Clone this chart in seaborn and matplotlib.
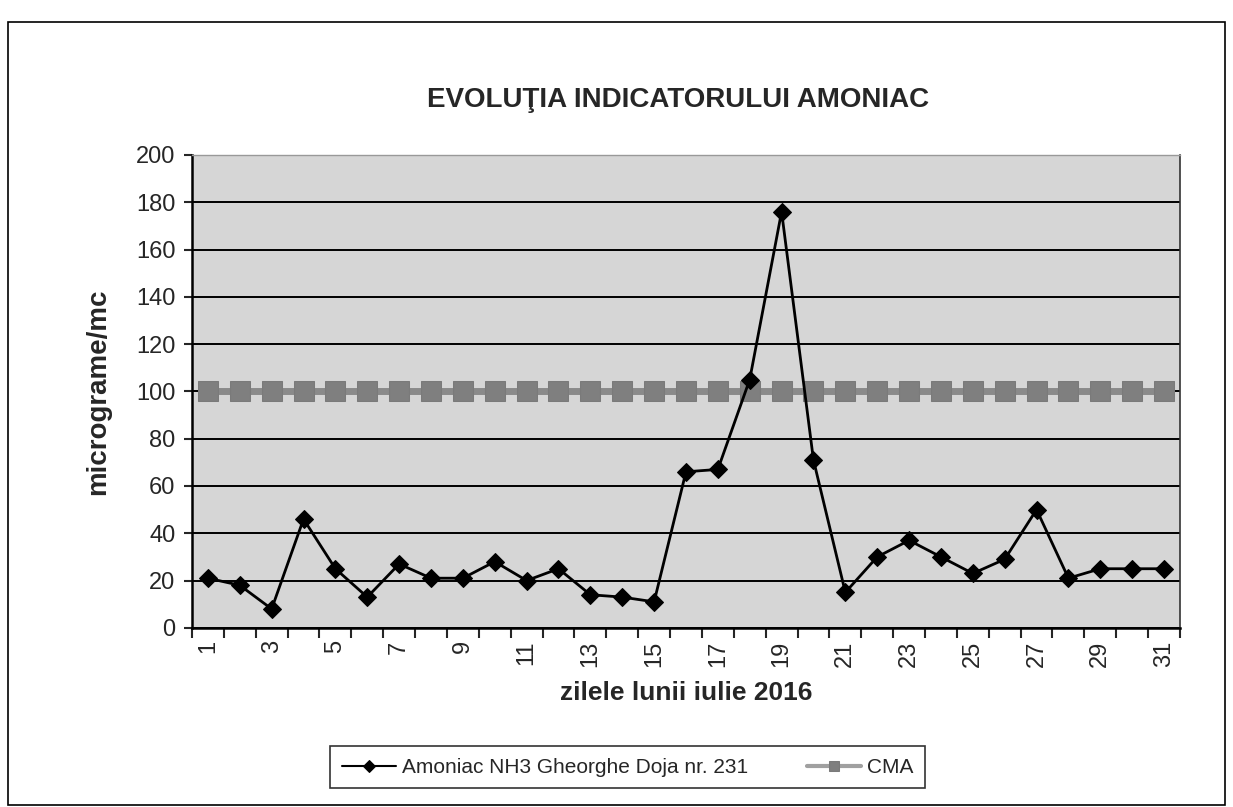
import matplotlib
matplotlib.use("Agg")
import pandas as pd
import matplotlib.pyplot as plt
import seaborn as sns
from matplotlib.patches import Rectangle

# data
days = list(range(1, 32))
amoniac = [21, 18, 8, 46, 25, 13, 27, 21, 21, 28, 20, 25, 14, 13, 11,
           66, 67, 105, 176, 71, 15, 30, 37, 30, 23, 29, 50, 21, 25, 25, 25]
cma = [100] * 31

title = "EVOLUŢIA INDICATORULUI AMONIAC"
series_nh3 = "Amoniac NH3 Gheorghe Doja nr. 231"
series_cma = "CMA"

sns.set_style("white")
plt.rcParams["font.family"] = ["Liberation Sans", "DejaVu Sans"]

df = pd.DataFrame({"day": days, "amoniac": amoniac, "cma": cma})

fig = plt.figure(figsize=(12.33, 8.07), dpi=100)
ax = fig.add_axes([0.1557, 0.222, 0.8013, 0.586])
ax.set_facecolor("#d6d6d6")

# outer chart frame
fig.patches.append(Rectangle((8 / 1233, 2 / 807), 1217 / 1233, 783 / 807,
                             transform=fig.transFigure, fill=False,
                             edgecolor="black", linewidth=1.2))

sns.lineplot(data=df, x="day", y="cma", ax=ax, color="#8a8a8a", linewidth=5,
             marker="s", markersize=14, markeredgecolor="#7a7a7a",
             markerfacecolor="#7f7f7f", label=series_cma, zorder=3)
sns.lineplot(data=df, x="day", y="amoniac", ax=ax, color="black", linewidth=2,
             marker="D", markersize=9, markeredgecolor="black",
             markerfacecolor="black", label=series_nh3, zorder=4)

ax.set_xlim(0.5, 31.5)
ax.set_ylim(0, 200)
ax.set_yticks(range(0, 201, 20))
ax.yaxis.grid(True, color="black", linewidth=1.4)
ax.set_axisbelow(True)

ax.set_xticks(days[::2])
ax.set_xticklabels([str(d) for d in days[::2]], rotation=90, fontsize=17)
ax.set_xticks([d + 0.5 for d in range(0, 32)], minor=True)
ax.tick_params(axis="x", which="major", length=0, pad=9)
ax.tick_params(axis="x", which="minor", length=7, width=1.5, direction="out",
               bottom=True)
ax.tick_params(axis="y", labelsize=17, length=6, width=1.5, direction="out",
               left=True, pad=6)

ax.spines["top"].set_color("#999999")
ax.spines["top"].set_linewidth(1)
ax.spines["right"].set_color("#333333")
ax.spines["right"].set_linewidth(1.2)
for side in ["left", "bottom"]:
    ax.spines[side].set_color("black")
    ax.spines[side].set_linewidth(1.8)

ax.set_xlabel("zilele lunii iulie 2016", fontsize=19, fontweight="bold",
              labelpad=10)
ax.set_ylabel("micrograme/mc", fontsize=20, fontweight="bold", labelpad=18)
fig.text(0.55, 0.876, title, ha="center", va="center", fontsize=20,
         fontweight="bold")

handles, labels = ax.get_legend_handles_labels()
ax.legend_.remove()
leg = fig.legend(handles[::-1], labels[::-1], loc="center", ncol=2,
                 bbox_to_anchor=(0.509, 0.049), frameon=True, fancybox=False,
                 edgecolor="black", fontsize=15, handlelength=2.6,
                 handletextpad=0.3, columnspacing=2.8, borderpad=0.55,
                 borderaxespad=0)
leg.get_frame().set_linewidth(1.2)
for h in leg.legend_handles:
    if h.get_label() == series_cma:
        h.set_markersize(7)
        h.set_linewidth(3)
        h.set_color("#a0a0a0")
    else:
        h.set_markersize(6)
        h.set_linewidth(1.5)

fig.savefig("out.png", dpi=100)
